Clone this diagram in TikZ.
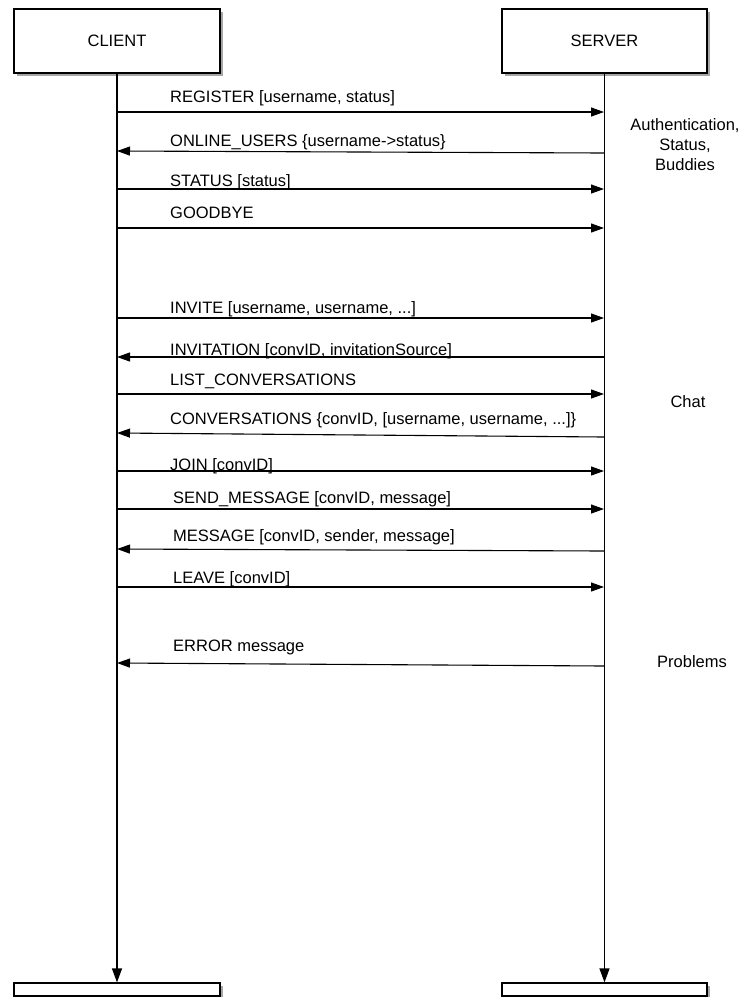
\documentclass[tikz,border=0pt]{standalone}
\usepackage{fontspec}
\setmainfont{Liberation Sans}
\usetikzlibrary{arrows.meta,shadows}
\begin{document}
\begin{tikzpicture}[x=1pt,y=-1pt,
  box/.style={draw, fill=white, line width=1.2pt, inner sep=0pt,
    font=\fontsize{16.5}{20}\selectfont,
    drop shadow={shadow xshift=3pt, shadow yshift=-3pt, fill=black!50, opacity=0.7}},
  life/.style={line width=1.2pt, -{Triangle[length=14pt,width=10pt]}},
  msg/.style={line width=1.1pt, -{Triangle[length=13pt,width=9pt]}},
  lbl/.style={anchor=base west, inner sep=0pt, font=\fontsize{16.5}{20}\selectfont},
  side/.style={align=center, inner sep=0pt, font=\fontsize{16.5}{20}\selectfont}]
\useasboundingbox (0,0) rectangle (742,997);
% participants
\node[box, minimum width=206pt, minimum height=64pt] (client) at (117,41) {CLIENT};
\node[box, minimum width=205pt, minimum height=64pt] (server) at (604.5,41) {SERVER};
\node[box, minimum width=206pt, minimum height=13pt] (clientend) at (117,989.5) {};
\node[box, minimum width=205pt, minimum height=13pt] (serverend) at (604.5,989.5) {};
\draw[life] (client.south) -- (clientend.north);
\draw[life] (server.south) -- (serverend.north);
% lifeline points
\foreach \n/\yc/\ys in {1/112/112, 2/151/153, 3/189/189, 4/228/228, 5/318/318,
  6/357/357, 7/394/394, 8/433/437, 9/471/471, 10/509/509, 11/549/551, 12/587/587, 13/663/666}{
  \coordinate (c\n) at (117,\yc);
  \coordinate (s\n) at (604,\ys);
}
% messages
\draw[msg] (c1) -- (s1);
\node[lbl] (l1) at (170,102) {REGISTER [username, status]};
\draw[msg] (s2) -- (c2);
\node[lbl] (l2) at (170,146) {ONLINE\_USERS \{username->status\}};
\draw[msg] (c3) -- (s3);
\node[lbl] (l3) at (170,186) {STATUS [status]};
\draw[msg] (c4) -- (s4);
\node[lbl] (l4) at (170,218) {GOODBYE};
\draw[msg] (c5) -- (s5);
\node[lbl] (l5) at (170,313) {INVITE [username, username, ...]};
\draw[msg] (s6) -- (c6);
\node[lbl] (l6) at (170,355) {INVITATION [convID, invitationSource]};
\draw[msg] (c7) -- (s7);
\node[lbl] (l7) at (170,385) {LIST\_CONVERSATIONS};
\draw[msg] (s8) -- (c8);
\node[lbl] (l8) at (170,424) {CONVERSATIONS \{convID, [username, username, ...]\}};
\draw[msg] (c9) -- (s9);
\node[lbl] (l9) at (170,470) {JOIN [convID]};
\draw[msg] (c10) -- (s10);
\node[lbl] (l10) at (173,503) {SEND\_MESSAGE [convID, message]};
\draw[msg] (s11) -- (c11);
\node[lbl] (l11) at (173,541) {MESSAGE [convID, sender, message]};
\draw[msg] (c12) -- (s12);
\node[lbl] (l12) at (173,583) {LEAVE [convID]};
\draw[msg] (s13) -- (c13);
\node[lbl] (l13) at (173,651) {ERROR message};
% groups
\node[side] (g1) at (685,145) {Authentication,\\Status,\\Buddies};
\node[side] (g2) at (688,402) {Chat};
\node[side] (g3) at (692,662) {Problems};
\end{tikzpicture}
\end{document}
